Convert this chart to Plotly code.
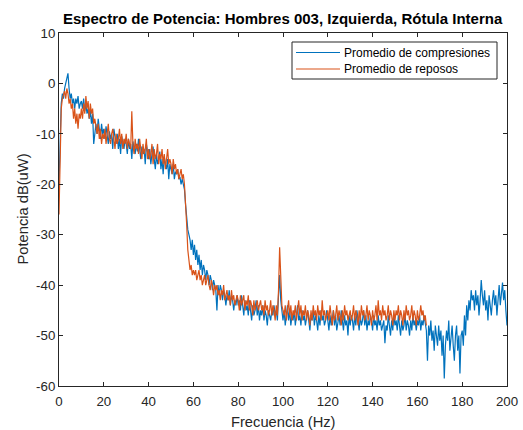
import numpy as np
import plotly.graph_objects as go

# Frequency step 0.5 Hz
freq_comp = [i * 0.5 for i in range(401)]   # 0 .. 200 Hz
freq_rep = [i * 0.5 for i in range(329)]    # 0 .. 164 Hz

compresiones = [
    -20, -9, -4, -2, -3, -1, 0, 1, 2, -1, -3, -2, -4, -3, -5, -3, -4, -2.5, -5, -4,
    -3.5, -5, -3, -5.5, -4, -6, -5, -7, -5.5, -8, -6, -12, -9, -8, -10, -7, -9, -11, -8, -10,
    -9, -11, -8.5, -10, -12, -9.5, -11, -10, -13, -9, -11, -12, -10, -13, -11, -14, -10.5, -12, -13, -11,
    -12, -14, -11, -13, -12, -15, -11.5, -13, -14, -12, -13.5, -11, -14, -15, -12.5, -14, -13, -16, -12, -14,
    -15, -13, -16, -14, -12.5, -15, -17, -14, -16, -15, -13.5, -17, -15, -18, -14.5, -16, -17, -15, -19, -16,
    -17, -18, -16, -19, -17.5, -18, -17, -19, -18.5, -20, -19, -20, -21, -24, -27, -29, -30, -31, -33, -31,
    -34, -32, -35, -33, -36, -34, -37, -35, -38, -36, -37, -39, -37, -38, -40, -38, -39, -41, -39, -40,
    -41, -45, -40, -42, -40, -41, -43, -41, -42, -44, -42, -43, -41, -44, -42, -43, -45, -43, -44, -42,
    -44, -43, -45, -42, -44, -46, -43, -45, -44, -46, -43, -45, -47, -44, -46, -45, -43, -46, -44, -47,
    -45, -46, -44, -47, -45, -46, -48, -45, -46, -47, -45, -46, -44, -46, -45, -47, -42, -38, -43, -46,
    -47, -45, -48, -46, -44, -47, -45, -48, -46, -47, -45, -48, -46, -44, -47, -46, -48, -45, -47, -46,
    -48, -46, -45, -47, -49, -46, -47, -45, -48, -46, -47, -49, -46, -48, -45, -47, -46, -48, -47, -45,
    -47, -49, -46, -48, -47, -45, -48, -46, -49, -47, -46, -48, -45, -47, -49, -46, -48, -47, -50, -46,
    -48, -46, -47, -49, -46, -48, -45, -47, -49, -46, -48, -47, -45, -48, -46, -49, -47, -48, -46, -47,
    -49, -46, -48, -47, -49, -46, -48, -47, -49, -48, -47, -51.5, -48, -49, -46, -48, -50, -47, -49, -46,
    -48, -47, -49, -46, -48, -50, -47, -49, -48, -46, -49, -47, -48, -50, -47, -49, -46, -48, -47, -49,
    -47, -48, -46, -49, -47, -48, -46, -48, -49, -55, -48, -50, -47, -51, -49, -53, -48, -50, -52, -48,
    -51, -49, -54, -50, -58.5, -52, -49, -51, -47, -53, -50, -48, -52, -55, -50, -48, -53, -50, -57.5, -50,
    -49, -52, -46, -50, -44, -47, -43, -45, -41, -43, -42, -45, -41, -44, -42, -46, -43, -39, -42, -44,
    -41, -45, -43, -47, -42, -44, -46, -43, -41, -44, -42, -46, -43, -40, -44, -42, -39.5, -43, -41, -45, -48,
]

reposos = [
    -26, -12, -5, -3, -2, -1.5, -3, -1, -2, -4, -3, -5, -4, -7, -5, -8, -6, -9, -6, -7,
    -5, -7, -4, -6, -2.5, -5, -3.5, -7, -4, -6, -5, -8, -7, -9, -10, -8, -11, -9, -12, -10,
    -11, -9, -12, -10, -8, -11, -12, -10, -9, -11, -13, -10, -12, -11, -9, -12, -10, -13, -11, -12,
    -10, -13, -11, -12, -13, -5.5, -12, -14, -11, -13, -12, -14, -11, -13, -15, -12, -14, -13, -11, -15,
    -13, -15, -14, -12, -16, -13, -15, -14, -12, -16, -14, -15, -13, -16, -14, -17, -15, -13, -16, -15,
    -16, -18, -15, -17, -16, -18, -17, -19, -18, -17, -19, -18, -20, -23, -28, -33, -36, -37, -36, -38,
    -37, -38, -37, -39, -38, -37, -39, -38, -40, -39, -38, -40, -39, -38, -40, -41, -39, -40, -42, -40,
    -41, -40, -42, -41, -43, -41, -42, -40, -43, -42, -41, -43, -42, -44, -41, -43, -42, -44, -43, -42,
    -43, -45, -42, -44, -43, -42, -45, -43, -44, -42, -45, -43, -44, -46, -43, -45, -44, -43, -45, -44,
    -43, -45, -44, -46, -43, -45, -44, -46, -45, -43, -46, -44, -45, -47, -44, -46, -41, -32.5, -41, -44,
    -45, -46, -44, -47, -45, -43, -46, -44, -47, -45, -46, -44, -47, -45, -43, -46, -44, -47, -45, -46,
    -44, -47, -45, -46, -48, -45, -47, -44, -46, -45, -47, -44, -46, -45, -47, -43, -46, -45, -47, -46,
    -45, -47, -44, -46, -48, -45, -47, -46, -44, -47, -45, -46, -48, -45, -47, -44, -46, -45, -47, -46,
    -45, -47, -46, -44, -47, -45, -46, -48, -45, -47, -44, -46, -45, -47, -46, -44, -47, -45, -46, -48,
    -45, -47, -46, -44, -47, -43, -46, -45, -47, -44, -46, -45, -47, -46, -44, -47, -45, -46, -48, -45,
    -47, -45, -46, -44, -47, -45, -46, -48, -45, -47, -44, -46, -45, -47, -46, -44, -47, -45, -46, -48,
    -45, -47, -46, -44, -46, -45, -47, -46, -48,
]

series_names = ["Promedio de compresiones", "Promedio de reposos"]
series_colors = ["#0072BD", "#D95319"]
x_ticks = [0, 20, 40, 60, 80, 100, 120, 140, 160, 180, 200]
y_ticks = [10, 0, -10, -20, -30, -40, -50, -60]

FONT = "Liberation Sans, Arial, Helvetica, sans-serif"
AX = "#262626"
W, H = 523, 430
L, R, T, B = 59, 16, 33, 44
PW, PH = W - L - R, H - T - B


def px(x):
    return (x - L) / PW


def py(y):
    return 1 - (y - T) / PH


fig = go.Figure()
fig.add_trace(go.Scatter(x=freq_comp, y=compresiones, mode="lines",
                         name=series_names[0], showlegend=False,
                         line=dict(color=series_colors[0], width=1.2)))
fig.add_trace(go.Scatter(x=freq_rep, y=reposos, mode="lines",
                         name=series_names[1], showlegend=False,
                         line=dict(color=series_colors[1], width=1.2)))

shapes = [dict(type="rect", xref="paper", yref="paper",
               x0=px(292), x1=px(497), y0=py(79), y1=py(42),
               line=dict(color=AX, width=1), fillcolor="white", layer="above")]
annotations = []
for i, (nm, col) in enumerate(zip(series_names, series_colors)):
    yc = 52.5 + i * 16.5
    shapes.append(dict(type="line", xref="paper", yref="paper",
                       x0=px(296), x1=px(340), y0=py(yc), y1=py(yc),
                       line=dict(color=col, width=1.2), layer="above"))
    annotations.append(dict(text=nm, xref="paper", yref="paper", x=px(342), y=py(yc),
                            xanchor="left", yanchor="middle", showarrow=False,
                            font=dict(size=12, color="#000000", family=FONT)))

annotations.append(dict(text="Frecuencia (Hz)", xref="paper", yref="paper",
                        x=0.5, y=py(422), xanchor="center", yanchor="middle",
                        showarrow=False, font=dict(size=14.7, color=AX, family=FONT)))
annotations.append(dict(text="Potencia dB(uW)", xref="paper", yref="paper",
                        x=px(22), y=0.5, xanchor="center", yanchor="middle", textangle=-90,
                        showarrow=False, font=dict(size=14.7, color=AX, family=FONT)))
annotations.append(dict(text="<b>Espectro de Potencia: Hombres 003, Izquierda, Rótula Interna</b>",
                        xref="paper", yref="paper", x=0.5, y=py(18),
                        xanchor="center", yanchor="middle", showarrow=False,
                        font=dict(size=15, color="#000000", family=FONT)))

fig.update_layout(
    width=W, height=H,
    margin=dict(l=L, r=R, t=T, b=B, autoexpand=False),
    paper_bgcolor="white", plot_bgcolor="white",
    font=dict(family=FONT, color=AX, size=13),
    showlegend=False,
    shapes=shapes, annotations=annotations,
)
fig.update_xaxes(range=[0, 200], tickvals=x_ticks, ticktext=[str(v) for v in x_ticks],
                 ticks="inside", ticklen=4, tickcolor=AX, showline=True, linecolor=AX,
                 linewidth=1, mirror="ticks", showgrid=False, zeroline=False,
                 automargin=False, ticklabelstandoff=3, tickfont=dict(size=13.3, color=AX))
fig.update_yaxes(range=[-60, 10], tickvals=y_ticks, ticktext=[str(v) for v in y_ticks],
                 ticks="inside", ticklen=4, tickcolor=AX, showline=True, linecolor=AX,
                 linewidth=1, mirror="ticks", showgrid=False, zeroline=False,
                 automargin=False, tickfont=dict(size=13.3, color=AX))

fig.write_html("out.html")
